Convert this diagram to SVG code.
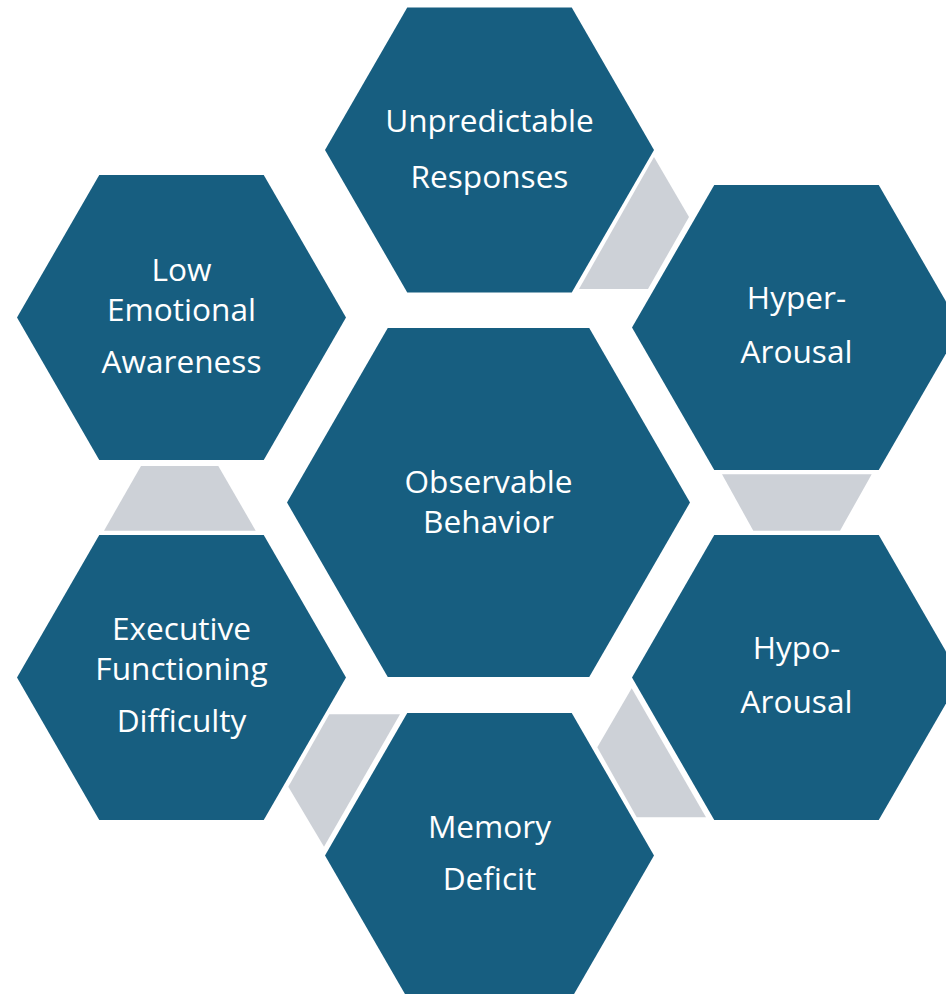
<svg xmlns="http://www.w3.org/2000/svg" width="946" height="994" viewBox="0 0 946 994">
  <style>
    .hex { fill: #175E80; }
    .link { fill: #CDD1D7; }
    .label { fill: #FFFFFF; font-family: "Open Sans", "Noto Sans", "DejaVu Sans", sans-serif; font-size: 31.6px; text-anchor: middle; }
  </style>
  <rect width="946" height="994" fill="#FFFFFF"/>

  <!-- grey links between neighbouring hexagons -->
  <g id="connectors">
    <polygon class="link" points="654,157 689,217 648,289 579,289"/>
    <polygon class="link" points="722,474.3 871.7,474.3 840,530.7 753.3,530.7"/>
    <polygon class="link" points="631.7,688.3 706,817.3 636.7,817.3 597.3,747.3"/>
    <polygon class="link" points="329.3,714.3 400,714.3 324,846.7 288.3,786.7"/>
    <polygon class="link" points="141,466 218.3,466 255.7,530.7 104,530.7"/>
  </g>

  <g id="observable-behavior">
    <polygon class="hex" points="287,502.5 387.75,328 589.25,328 690,502.5 589.25,677 387.75,677"/>
    <text class="label" x="488.5" y="493">Observable</text>
    <text class="label" x="488.5" y="532.5">Behavior</text>
  </g>

  <g id="unpredictable-responses">
    <polygon class="hex" points="325,150 407.25,7.5 571.75,7.5 654,150 571.75,292.5 407.25,292.5"/>
    <text class="label" x="489.5" y="131.5">Unpredictable</text>
    <text class="label" x="489.5" y="187.5">Responses</text>
  </g>

  <g id="hyper-arousal">
    <polygon class="hex" points="632,327.5 714.25,185 878.75,185 961,327.5 878.75,470 714.25,470"/>
    <text class="label" x="796.5" y="309.3">Hyper-</text>
    <text class="label" x="796.5" y="363.3">Arousal</text>
  </g>

  <g id="hypo-arousal">
    <polygon class="hex" points="632,677.5 714.25,535 878.75,535 961,677.5 878.75,820 714.25,820"/>
    <text class="label" x="796.5" y="659.3">Hypo-</text>
    <text class="label" x="796.5" y="713.3">Arousal</text>
  </g>

  <g id="memory-deficit">
    <polygon class="hex" points="325,855.5 407.25,713 571.75,713 654,855.5 571.75,998 407.25,998"/>
    <text class="label" x="489.5" y="838.3">Memory</text>
    <text class="label" x="489.5" y="890">Deficit</text>
  </g>

  <g id="executive-functioning-difficulty">
    <polygon class="hex" points="17,677.5 99.25,535 263.75,535 346,677.5 263.75,820 99.25,820"/>
    <text class="label" x="181.5" y="640">Executive</text>
    <text class="label" x="181.5" y="680">Functioning</text>
    <text class="label" x="181.5" y="731.7">Difficulty</text>
  </g>

  <g id="low-emotional-awareness">
    <polygon class="hex" points="17,317.5 99.25,175 263.75,175 346,317.5 263.75,460 99.25,460"/>
    <text class="label" x="181.5" y="280.7">Low</text>
    <text class="label" x="181.5" y="320.7">Emotional</text>
    <text class="label" x="181.5" y="373.3">Awareness</text>
  </g>
</svg>
